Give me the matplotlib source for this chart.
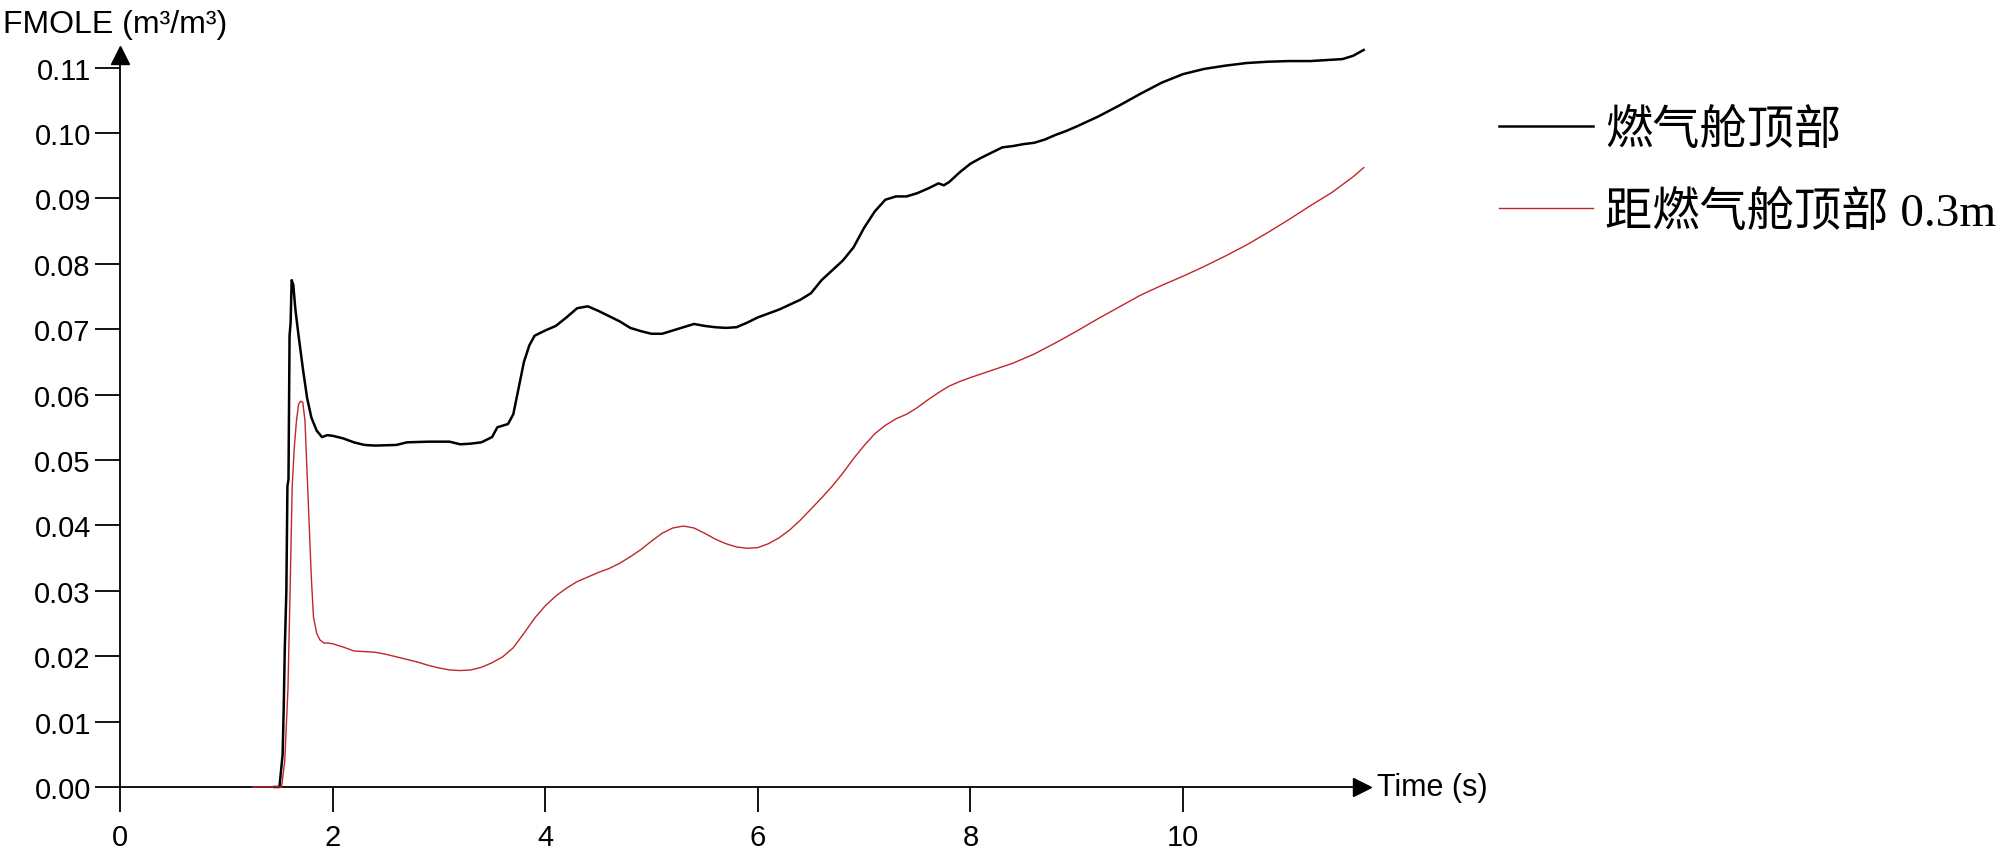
import matplotlib
matplotlib.use("Agg")
import matplotlib.pyplot as plt
import numpy as np

t_top = [1.45, 1.50, 1.53, 1.54, 1.55, 1.565, 1.575, 1.585, 1.595, 1.605, 1.615, 1.63,
         1.65, 1.68, 1.72, 1.76, 1.80, 1.85, 1.90, 1.95, 2.0, 2.1, 2.2, 2.3, 2.4, 2.6,
         2.7, 2.9, 3.1, 3.2, 3.3, 3.4, 3.5, 3.55, 3.65, 3.7, 3.75, 3.8, 3.85, 3.9, 4.0,
         4.1, 4.2, 4.3, 4.4, 4.5, 4.6, 4.7, 4.8, 4.9, 5.0, 5.1, 5.2, 5.3, 5.4, 5.5, 5.6,
         5.7, 5.8, 5.9, 6.0, 6.2, 6.4, 6.5, 6.6, 6.8, 6.9, 7.0, 7.1, 7.2, 7.3, 7.4, 7.5,
         7.6, 7.7, 7.75, 7.8, 7.9, 8.0, 8.1, 8.2, 8.3, 8.4, 8.5, 8.6, 8.7, 8.8, 8.9, 9.0,
         9.2, 9.4, 9.6, 9.8, 10.0, 10.2, 10.4, 10.6, 10.8, 11.0, 11.2, 11.4, 11.5, 11.6, 11.7]
fmole_top = [0.0, 0.0, 0.005, 0.012, 0.021, 0.030, 0.046, 0.047, 0.069, 0.071, 0.0775, 0.0768,
             0.073, 0.069, 0.064, 0.0595, 0.0565, 0.0545, 0.0535, 0.0538, 0.0537, 0.0533, 0.0527, 0.0523, 0.0522, 0.0523,
             0.0527, 0.0528, 0.0528, 0.0524, 0.0525, 0.0527, 0.0535, 0.055, 0.0555, 0.057, 0.061, 0.065, 0.0675, 0.069, 0.0698,
             0.0705, 0.0718, 0.0732, 0.0735, 0.0728, 0.072, 0.0712, 0.0702, 0.0697, 0.0693, 0.0693, 0.0698, 0.0703, 0.0708, 0.0705, 0.0703,
             0.0702, 0.0703, 0.071, 0.0718, 0.073, 0.0745, 0.0755, 0.0775, 0.0805, 0.0825, 0.0855, 0.088, 0.0898, 0.0903, 0.0903, 0.0908,
             0.0915, 0.0923, 0.092, 0.0925, 0.094, 0.0953, 0.0962, 0.097, 0.0978, 0.098, 0.0983, 0.0985, 0.099, 0.0997, 0.1003, 0.101,
             0.1025, 0.1042, 0.106, 0.1077, 0.109, 0.1098, 0.1103, 0.1107, 0.1109, 0.111, 0.111, 0.1112, 0.1113, 0.1118, 0.1127]

t_03m = [1.25, 1.52, 1.55, 1.58, 1.60, 1.62, 1.64, 1.66, 1.68, 1.70, 1.72, 1.74, 1.76, 1.78,
         1.80, 1.82, 1.85, 1.88, 1.92, 1.96, 2.0, 2.1, 2.2, 2.3, 2.4, 2.5, 2.6, 2.7, 2.8, 2.9,
         3.0, 3.1, 3.2, 3.3, 3.4, 3.5, 3.6, 3.7, 3.8, 3.9, 4.0, 4.1, 4.2, 4.3, 4.4, 4.5, 4.6,
         4.7, 4.8, 4.9, 5.0, 5.1, 5.2, 5.3, 5.4, 5.5, 5.6, 5.7, 5.8, 5.9, 6.0, 6.1, 6.2, 6.3,
         6.4, 6.5, 6.6, 6.7, 6.8, 6.9, 7.0, 7.1, 7.2, 7.3, 7.4, 7.5, 7.6, 7.7, 7.8, 7.9, 8.0,
         8.2, 8.4, 8.6, 8.8, 9.0, 9.2, 9.4, 9.6, 9.8, 10.0, 10.2, 10.4, 10.6, 10.8, 11.0, 11.2,
         11.4, 11.6, 11.7]
fmole_03m = [0.0, 0.0, 0.004, 0.015, 0.030, 0.046, 0.052, 0.056, 0.0585, 0.059, 0.0588, 0.056, 0.048, 0.040,
             0.032, 0.026, 0.0235, 0.0225, 0.022, 0.022, 0.0219, 0.0214, 0.0208, 0.0207, 0.0206, 0.0203, 0.0199, 0.0195, 0.0191, 0.0186,
             0.0182, 0.0179, 0.0178, 0.0179, 0.0183, 0.019, 0.0199, 0.0213, 0.0235, 0.0258, 0.0277, 0.0292, 0.0304, 0.0314, 0.0321, 0.0328, 0.0334,
             0.0342, 0.0352, 0.0363, 0.0376, 0.0388, 0.0396, 0.0399, 0.0396, 0.0388, 0.0379, 0.0372, 0.0367, 0.0365, 0.0366, 0.0372, 0.0381, 0.0393,
             0.0408, 0.0425, 0.0442, 0.046, 0.048, 0.0502, 0.0522, 0.054, 0.0553, 0.0563, 0.057, 0.058, 0.0592, 0.0603, 0.0613, 0.062, 0.0626,
             0.0637, 0.0648, 0.0662, 0.0679, 0.0697, 0.0716, 0.0734, 0.0752, 0.0767, 0.0781, 0.0796, 0.0812, 0.0829, 0.0848, 0.0868, 0.0889,
             0.0909, 0.0933, 0.0947]

labels = ["燃气舱顶部", "距燃气舱顶部 0.3m"]
y_ticks = [0.00, 0.01, 0.02, 0.03, 0.04, 0.05, 0.06, 0.07, 0.08, 0.09, 0.10, 0.11]
x_ticks = [0, 2, 4, 6, 8, 10]

sans = ["Liberation Sans", "DejaVu Sans"]
cjk = ["Liberation Serif", "Noto Sans CJK SC", "DejaVu Sans"]

fig = plt.figure(figsize=(20, 8.54), dpi=100)
ax = fig.add_axes([0.06, 0.0773, 0.6208, 0.8577])

ax.plot(t_top, fmole_top, color="black", lw=1.8, label=labels[0], clip_on=False)
ax.plot(t_03m, fmole_03m, color="#c0262a", lw=1.0, label=labels[1], clip_on=False, zorder=3)

ax.set_xlim(0, 11.68)
ax.set_ylim(0, 0.112)
ax.set_xticks(x_ticks)
ax.set_yticks(y_ticks)
ax.set_xticklabels([str(v) for v in x_ticks], family=sans, fontsize=21)
ax.set_yticklabels(["%.2f" % v for v in y_ticks], family=sans, fontsize=21)
ax.tick_params(axis="both", direction="out", length=18, width=1.3, color="black")
ax.tick_params(axis="y", pad=3)
ax.tick_params(axis="x", pad=8)

for s in ["top", "right"]:
    ax.spines[s].set_visible(False)
for s in ["left", "bottom"]:
    ax.spines[s].set_linewidth(1.3)

# Pfeilspitzen an den Achsenenden
ax.plot(1, 0, marker=">", ms=13, color="black", transform=ax.transAxes, clip_on=False)
ax.plot(0, 1, marker="^", ms=13, color="black", transform=ax.transAxes, clip_on=False)

fig.text(0.0015, 0.971, "FMOLE (m³/m³)", family=sans, fontsize=23, va="center", ha="left")
fig.text(0.6885, 0.0773, "Time (s)", family=sans, fontsize=22, va="center", ha="left")

ax.legend(loc="center left", bbox_to_anchor=(0.7495, 0.798), bbox_transform=fig.transFigure,
          frameon=False, prop={"family": cjk, "size": 34}, handlelength=2.0,
          handletextpad=0.25, labelspacing=0.8, borderpad=0, borderaxespad=0)

fig.savefig("out.png", dpi=100, facecolor="white")
